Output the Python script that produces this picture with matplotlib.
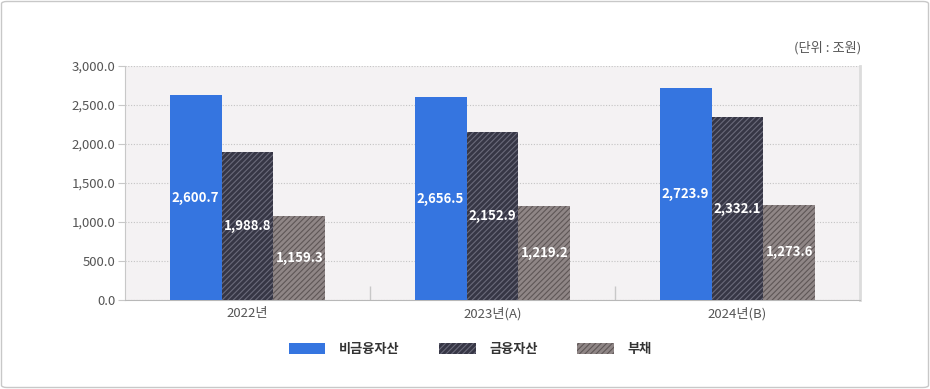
import matplotlib
matplotlib.use("Agg")
import matplotlib.pyplot as plt
import numpy as np
from matplotlib.patches import FancyBboxPatch, Patch

plt.rcParams['font.family'] = ['Noto Sans CJK KR', 'DejaVu Sans']
plt.rcParams['hatch.linewidth'] = 0.8

categories = ['2022년', '2023년(A)', '2024년(B)']
series_names = ['비금융자산', '금융자산', '부채']
# bar heights as drawn in the picture
nonfin = [2627, 2601, 2717]
fin = [1893, 2150, 2343]
debt = [1082, 1210, 1223]
# printed labels
nonfin_labels = ['2,600.7', '2,656.5', '2,723.9']
fin_labels = ['1,988.8', '2,152.9', '2,332.1']
debt_labels = ['1,159.3', '1,219.2', '1,273.6']
yticks = [0, 500, 1000, 1500, 2000, 2500, 3000]

W, H = 930, 389
fig = plt.figure(figsize=(W/100, H/100), dpi=100)
fig.patches.append(FancyBboxPatch((1.5/W, 1.5/H), 1-3/W, 1-3/H, boxstyle="round,pad=0,rounding_size=0.006",
                                  transform=fig.transFigure, fill=False, edgecolor='#c8c8c8', lw=1.0))

ax = fig.add_axes([125/W, 1-300/H, (860-125)/W, (300-66)/H])
ax.set_facecolor('#f4f2f3')

x = np.arange(len(categories))
bw = 0.212
styles = [
    dict(color='#3575e0', edgecolor='#3575e0', hatch=None),
    dict(color='#363645', edgecolor='#6a6a7a', hatch='//////'),
    dict(color='#8f8686', edgecolor='#5e5656', hatch='//////'),
]
data = [nonfin, fin, debt]
labels = [nonfin_labels, fin_labels, debt_labels]
for i, (vals, labs, st) in enumerate(zip(data, labels, styles)):
    xs = x + (i-1)*bw
    bars = ax.bar(xs, vals, width=bw, color=st['color'], edgecolor=st['edgecolor'], hatch=st['hatch'],
                  linewidth=0, zorder=3)
    for b, lab in zip(bars, labs):
        ax.text(b.get_x()+b.get_width()/2, b.get_height()/2, lab, ha='center', va='center',
                color='white', fontsize=9.5, fontweight='bold', zorder=4)

ax.set_xlim(-0.5, 2.5)
ax.set_ylim(0, 3000)
ax.set_yticks(yticks)
ax.set_yticklabels([f'{v:,.1f}' for v in yticks], fontsize=9.5, color='#555555')
ax.yaxis.grid(True, linestyle=(0, (1, 1.5)), color='#c4c4c4', lw=0.8, zorder=0)
ax.set_xticks([0.5, 1.5], minor=True)
ax.set_xticks(x)
ax.set_xticklabels(categories, fontsize=9.5, color='#555555')
ax.tick_params(axis='x', which='major', length=0, pad=5)
ax.tick_params(axis='x', which='minor', length=10, direction='in', color='#c8c8c8', width=1)
ax.tick_params(axis='y', length=5, color='#c8c8c8', pad=2)
ax.spines['top'].set_visible(False)
ax.spines['left'].set_color('#c8c8c8')
ax.spines['bottom'].set_color('#b8b8b8')
ax.spines['right'].set_color('#dcdcdc')
ax.spines['right'].set_linewidth(2)

fig.text(861/W, 1-48/H, '(단위 : 조원)', ha='right', va='center', fontsize=9.5, color='#555555')

handles = [Patch(facecolor=st['color'], edgecolor=st['edgecolor'], hatch=st['hatch'], linewidth=0) for st in styles]
leg = fig.legend(handles, series_names, loc='center', bbox_to_anchor=(470/W, 1-349/H), ncol=3,
                 frameon=False, fontsize=9.5, handlelength=2.8, handleheight=0.9, handletextpad=1.0,
                 columnspacing=3.0)
for t in leg.get_texts():
    t.set_color('#333333')
    t.set_fontweight('bold')

fig.savefig('out.png', dpi=100)
